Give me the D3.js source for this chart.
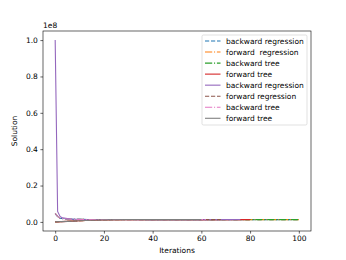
<!DOCTYPE html>
<html>
<head>
<meta charset="utf-8">
<script src="https://cdn.jsdelivr.net/npm/d3@7"></script>
<style>
  body { margin: 0; background: #fff; }
  text { font-family: "DejaVu Sans", sans-serif; }
</style>
</head>
<body>
<svg width="346" height="260"></svg>
<script>
// values in units of 1e6
var labels = ["backward regression", "forward  regression", "backward tree", "forward tree",
              "backward regression", "forward regression", "backward tree", "forward tree"];
var colors = ["#1f77b4", "#ff7f0e", "#2ca02c", "#d62728", "#9467bd", "#8c564b", "#e377c2", "#7f7f7f"];
var dashes = ["4.2,1.8", "7.2,1.8,1.1,1.8", "7.2,1.8,1.1,1.8", null, null, "4.2,1.8", "7.2,1.8,1.1,1.8", null];

var bwRegIter = [0, 1, 2, 4, 8, 20, 40, 60, 80, 100];
var bwRegVal  = [4.5, 2.9, 2.0, 1.6, 1.4, 1.3, 1.28, 1.27, 1.26, 1.26];
var fwRegIter = [0, 5, 10, 15, 20, 30, 50, 70, 100];
var fwRegVal  = [0, 0.35, 0.65, 0.95, 1.15, 1.25, 1.27, 1.27, 1.27];
var bwTreeIter = [0, 1, 2, 4, 8, 20, 40, 70, 100];
var bwTreeVal  = [4.7, 3.0, 2.0, 1.6, 1.4, 1.3, 1.28, 1.27, 1.26];
var fwTreeIter = [0, 5, 10, 15, 20, 30, 50, 80];
var fwTreeVal  = [0, 0.3, 0.6, 0.9, 1.1, 1.25, 1.27, 1.27];

var bwReg2Iter = [0, 1, 2, 3, 5, 7, 10, 15, 20, 40, 60, 76];
var bwReg2Val  = [100, 5.8, 3.0, 2.2, 1.8, 1.6, 1.45, 1.35, 1.3, 1.28, 1.27, 1.26];
var fwReg2Iter = [0, 5, 10, 15, 20, 30, 50, 68];
var fwReg2Val  = [0, 0.3, 0.6, 0.9, 1.1, 1.25, 1.27, 1.27];
var bwTree2Iter = [0, 1, 2, 4, 8, 20, 40, 62];
var bwTree2Val  = [4.7, 3.0, 2.0, 1.6, 1.4, 1.3, 1.27, 1.27];
var fwTree2Iter = [0, 5, 10, 15, 20, 30, 45, 60];
var fwTree2Val  = [0, 0.3, 0.6, 0.9, 1.1, 1.25, 1.27, 1.28];

var xTicks = [0, 20, 40, 60, 80, 100];
var yTicks = [0, 0.2, 0.4, 0.6, 0.8, 1.0];

var runs = [
  [bwRegIter, bwRegVal], [fwRegIter, fwRegVal], [bwTreeIter, bwTreeVal], [fwTreeIter, fwTreeVal],
  [bwReg2Iter, bwReg2Val], [fwReg2Iter, fwReg2Val], [bwTree2Iter, bwTree2Val], [fwTree2Iter, fwTree2Val]
];
var series = runs.map(function(r, i) {
  return {
    label: labels[i], color: colors[i], dash: dashes[i],
    points: r[0].map(function(it, j) { return { x: it, y: r[1][j] * 1e6 }; })
  };
});

var svg = d3.select("svg"),
    plotL = 43, plotR = 311, plotT = 31, plotB = 231;

var x = d3.scaleLinear().domain([-5, 105]).range([plotL, plotR]);
var y = d3.scaleLinear().domain([-0.05e8, 1.05e8]).range([plotB, plotT]);

var line = d3.line()
    .x(function(d) { return x(d.x); })
    .y(function(d) { return y(d.y); });

svg.append("g")
  .selectAll("path")
  .data(series)
  .enter().append("path")
    .attr("d", function(d) { return line(d.points); })
    .attr("fill", "none")
    .attr("stroke", function(d) { return d.color; })
    .attr("stroke-width", 1.1)
    .attr("stroke-dasharray", function(d) { return d.dash; });

var xAxis = svg.append("g")
    .attr("transform", "translate(0," + plotB + ")")
    .call(d3.axisBottom(x).tickValues(xTicks).tickSize(2.6).tickPadding(2.5).tickFormat(d3.format("d")));
var yAxis = svg.append("g")
    .attr("transform", "translate(" + plotL + ",0)")
    .call(d3.axisLeft(y).tickValues(yTicks.map(function(v) { return v * 1e8; }))
      .tickSize(2.6).tickPadding(2.5).tickFormat(function(v) { return d3.format(".1f")(v / 1e8); }));

[xAxis, yAxis].forEach(function(a) {
  a.select(".domain").remove();
  a.selectAll("line").attr("stroke", "#000").attr("stroke-width", 0.6);
  a.selectAll("text").attr("font-size", 7.5).attr("fill", "#000")
      .style("font-family", "DejaVu Sans, sans-serif");
});

svg.append("rect")
    .attr("x", plotL).attr("y", plotT)
    .attr("width", plotR - plotL).attr("height", plotB - plotT)
    .attr("fill", "none").attr("stroke", "#000").attr("stroke-width", 0.6);

svg.append("text")
    .attr("x", plotL).attr("y", plotT - 3)
    .attr("font-size", 7.5)
    .text("1e8");

svg.append("text")
    .attr("x", (plotL + plotR) / 2).attr("y", 253)
    .attr("text-anchor", "middle").attr("font-size", 7.5)
    .text("Iterations");

svg.append("text")
    .attr("transform", "translate(17," + ((plotT + plotB) / 2) + ") rotate(-90)")
    .attr("text-anchor", "middle").attr("font-size", 7.5)
    .text("Solution");

// legend
var legend = svg.append("g").attr("transform", "translate(202,35)");
legend.append("rect")
    .attr("width", 105).attr("height", 90).attr("rx", 1.5)
    .attr("fill", "#fff").attr("fill-opacity", 0.8)
    .attr("stroke", "#ccc").attr("stroke-width", 0.6);

var row = legend.selectAll("g.row")
  .data(series)
  .enter().append("g")
    .attr("class", "row")
    .attr("transform", function(d, i) { return "translate(0," + (6 + i * 11.04) + ")"; });

row.append("line")
    .attr("x1", 3).attr("x2", 18.5)
    .attr("stroke", function(d) { return d.color; })
    .attr("stroke-width", 1.1)
    .attr("stroke-dasharray", function(d) { return d.dash; });

row.append("text")
    .attr("x", 24).attr("dy", "0.35em")
    .attr("font-size", 7.5)
    .style("white-space", "pre")
    .text(function(d) { return d.label; });
</script>
</body>
</html>
